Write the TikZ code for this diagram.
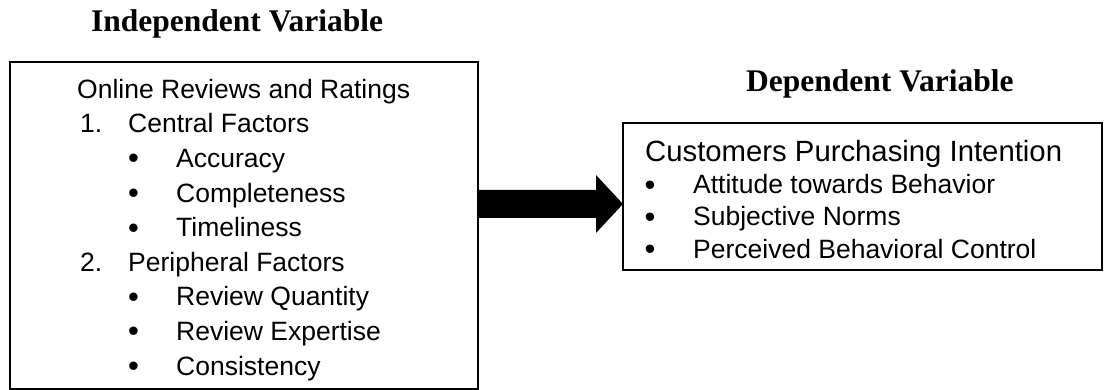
\documentclass[tikz,border=0pt]{standalone}
\usepackage{fontspec}
\setmainfont{Liberation Sans}
\newfontfamily\titlefont{Liberation Serif}
\usetikzlibrary{calc}
\begin{document}
\begin{tikzpicture}[x=1pt,y=1pt,
  box/.style={draw, line width=2pt, rectangle, inner sep=0pt, outer sep=0pt},
  txt/.style={anchor=base west, inner sep=0pt, font=\fontsize{26.5}{30}\selectfont},
  head/.style={anchor=base west, inner sep=0pt, font=\fontsize{29.3}{33}\selectfont},
  bul/.style={anchor=base, inner sep=0pt, yshift=-1.5pt, font=\fontsize{31}{34}\selectfont},
  ttl/.style={anchor=base west, inner sep=0pt, font=\titlefont\bfseries\fontsize{31.5}{36}\selectfont}]
\useasboundingbox (0,0) rectangle (1104,390);
\fill[white] (0,0) rectangle (1104,390);
% titles
\node[ttl] (t1) at (91,358) {Independent Variable};
\node[ttl] (t2) at (746,298) {Dependent Variable};
% boxes
\node[box, minimum width=468pt, minimum height=327pt] (L) at (244,164.5) {};
\node[box, minimum width=479pt, minimum height=147pt] (R) at (862.5,193.5) {};
% arrow
\fill let \p1=(L.east), \p2=(R.west) in
  (\x1,200pt) -- (\x2-27pt,200pt) -- (\x2-27pt,215pt) -- (\x2,186pt)
  -- (\x2-27pt,157pt) -- (\x2-27pt,172pt) -- (\x1,172pt) -- cycle;
% left text
\node[txt] (l0) at (77,291.7) {Online Reviews and Ratings};
\node[txt] (n1) at (80,257.1) {1.};
\node[txt] (l1) at (128,257.1) {Central Factors};
\node[bul] (b1) at (133.5,222.5) {•};
\node[txt] (l2) at (176,222.5) {Accuracy};
\node[bul] (b2) at (133.5,187.9) {•};
\node[txt] (l3) at (176,187.9) {Completeness};
\node[bul] (b3) at (133.5,153.3) {•};
\node[txt] (l4) at (176,153.3) {Timeliness};
\node[txt] (n2) at (80,118.7) {2.};
\node[txt] (l5) at (128,118.7) {Peripheral Factors};
\node[bul] (b4) at (133.5,84.1) {•};
\node[txt] (l6) at (176,84.1) {Review Quantity};
\node[bul] (b5) at (133.5,49.5) {•};
\node[txt] (l7) at (176,49.5) {Review Expertise};
\node[bul] (b6) at (133.5,14.9) {•};
\node[txt] (l8) at (176,14.9) {Consistency};
% right text
\node[head] (r0) at (645,228) {Customers Purchasing Intention};
\node[bul] (c1) at (650,196) {•};
\node[txt] (r1) at (693,196) {Attitude towards Behavior};
\node[bul] (c2) at (650,164) {•};
\node[txt] (r2) at (693,164) {Subjective Norms};
\node[bul] (c3) at (650,131.5) {•};
\node[txt] (r3) at (693,131.5) {Perceived Behavioral Control};
\end{tikzpicture}
\end{document}
